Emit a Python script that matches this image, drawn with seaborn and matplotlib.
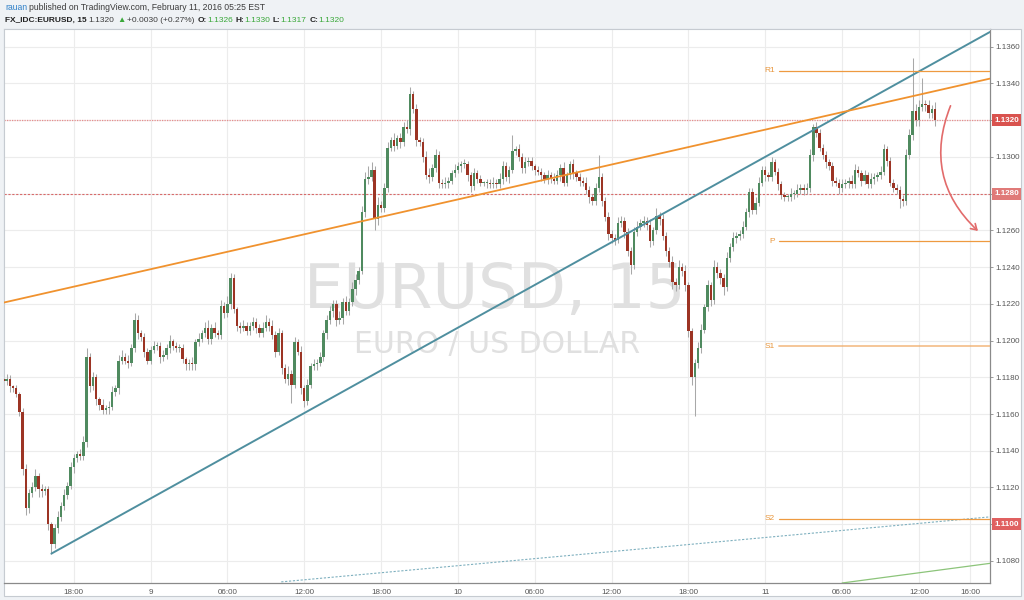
import numpy as np
import pandas as pd
import matplotlib
matplotlib.use('Agg')
import matplotlib.pyplot as plt
import seaborn as sns
from matplotlib.patches import Rectangle, FancyArrowPatch

sns.set_theme(style='white')
plt.rcParams['font.family'] = ['Liberation Sans', 'DejaVu Sans']

# EURUSD 15 min bars, prices as pips above 1.1000, time in hours after Feb 8 00:00
BASE = 1.1000
PIP = 0.0001
FIRST_BAR = 12.5
BAR_HOURS = 0.25

first_open = 179
close_pips = [
    178, 179, 175, 174, 171, 161, 130, 109, 117, 120, 126, 119, 118, 119, 100, 89, 98, 104, 110, 116,
    121, 131, 136, 138, 137, 145, 191, 175, 180, 168, 165, 162, 163, 164, 172, 174, 189, 191, 189, 188,
    196, 211, 204, 202, 194, 189, 195, 197, 197, 191, 192, 196, 200, 197, 196, 196, 190, 187, 188, 187,
    199, 201, 204, 207, 201, 207, 204, 203, 219, 215, 220, 234, 217, 208, 207, 208, 205, 208, 210, 207,
    204, 207, 210, 208, 203, 194, 204, 185, 179, 182, 176, 199, 194, 174, 167, 176, 186, 187, 188, 191,
    204, 211, 216, 220, 211, 212, 221, 216, 221, 228, 233, 238, 270, 288, 289, 293, 266, 274, 272, 283,
    305, 309, 306, 310, 308, 316, 315, 334, 326, 309, 308, 300, 290, 289, 294, 301, 286, 285, 286, 287,
    291, 293, 295, 296, 296, 290, 284, 291, 288, 286, 286, 286, 285, 286, 285, 288, 295, 289, 293, 303,
    304, 300, 294, 297, 298, 295, 293, 292, 290, 288, 290, 288, 287, 290, 294, 286, 290, 296, 291, 289,
    287, 286, 282, 278, 276, 283, 289, 276, 267, 258, 256, 255, 264, 265, 259, 249, 241, 259, 262, 264,
    265, 263, 254, 260, 268, 266, 257, 249, 243, 232, 230, 240, 238, 230, 205, 180, 188, 196, 206, 218,
    230, 222, 240, 237, 234, 229, 245, 251, 256, 257, 258, 262, 270, 281, 271, 275, 286, 293, 290, 289,
    297, 292, 285, 279, 278, 278, 280, 280, 282, 283, 282, 283, 301, 316, 313, 305, 301, 297, 295, 287,
    286, 283, 285, 286, 287, 285, 293, 291, 287, 290, 285, 288, 289, 290, 292, 304, 298, 286, 283, 282,
    277, 276, 301, 312, 325, 320, 327, 329, 328, 324, 326, 320,
]
hi_wick = [
    2, 3, 2, 1, 2, 1, 2, 3, 2, 3, 4, 2, 3, 2, 2, 1, 2, 3, 2, 3,
    2, 3, 2, 2, 3, 3, 5, 2, 3, 2, 1, 3, 2, 3, 3, 2, 3, 4, 2, 3,
    2, 4, 3, 2, 2, 2, 2, 3, 2, 2, 3, 2, 3, 1, 2, 2, 2, 1, 2, 3,
    2, 3, 2, 3, 4, 2, 3, 2, 3, 2, 4, 3, 2, 1, 2, 3, 2, 2, 3, 2,
    2, 3, 4, 2, 3, 2, 3, 2, 2, 4, 2, 3, 2, 3, 2, 3, 2, 3, 2, 3,
    2, 3, 3, 2, 2, 4, 2, 3, 2, 4, 3, 2, 3, 4, 6, 4, 2, 4, 2, 3,
    3, 2, 4, 2, 3, 3, 4, 4, 2, 3, 2, 2, 3, 4, 2, 3, 2, 2, 3, 2,
    2, 3, 2, 2, 3, 2, 2, 3, 2, 2, 1, 2, 2, 3, 2, 3, 3, 2, 2, 9,
    2, 3, 2, 3, 2, 2, 1, 2, 2, 2, 3, 2, 3, 3, 2, 3, 2, 2, 3, 2,
    2, 2, 3, 2, 2, 3, 12, 2, 2, 3, 2, 2, 3, 3, 2, 2, 2, 3, 3, 2,
    3, 2, 3, 2, 4, 2, 3, 2, 2, 3, 2, 4, 2, 3, 2, 2, 2, 3, 3, 2,
    3, 2, 4, 3, 2, 2, 3, 2, 3, 2, 2, 3, 2, 2, 2, 3, 3, 2, 2, 2,
    3, 2, 2, 2, 2, 2, 3, 2, 3, 2, 2, 3, 3, 2, 3, 2, 2, 2, 2, 2,
    2, 2, 3, 2, 2, 3, 3, 2, 2, 3, 2, 3, 2, 2, 3, 3, 2, 2, 2, 2,
    2, 2, 3, 3, 29, 4, 4, 14, 2, 3, 2, 4,
]
lo_wick = [
    2, 2, 3, 2, 2, 2, 3, 4, 3, 2, 2, 4, 3, 2, 3, 5, 2, 3, 2, 2,
    2, 2, 3, 2, 2, 2, 3, 3, 2, 3, 3, 2, 2, 3, 2, 2, 3, 2, 2, 3,
    2, 2, 3, 2, 3, 2, 2, 2, 2, 3, 2, 2, 3, 2, 2, 2, 2, 3, 3, 3,
    3, 2, 2, 2, 3, 3, 2, 2, 2, 3, 2, 3, 2, 3, 3, 2, 2, 2, 2, 3,
    2, 2, 2, 3, 2, 3, 2, 3, 2, 3, 10, 2, 2, 3, 3, 2, 2, 2, 3, 2,
    2, 3, 2, 3, 3, 2, 3, 2, 2, 2, 3, 2, 2, 3, 3, 2, 6, 3, 2, 2,
    2, 2, 3, 2, 3, 2, 2, 3, 2, 3, 2, 3, 2, 3, 2, 2, 3, 2, 2, 3,
    2, 2, 2, 3, 2, 3, 3, 2, 2, 2, 2, 3, 2, 2, 2, 2, 3, 2, 3, 2,
    2, 2, 3, 3, 2, 2, 3, 2, 3, 2, 3, 2, 2, 2, 3, 2, 2, 2, 3, 2,
    3, 2, 2, 3, 2, 2, 2, 3, 2, 3, 3, 3, 2, 2, 3, 3, 5, 2, 2, 2,
    2, 3, 3, 2, 2, 3, 2, 3, 3, 4, 3, 2, 3, 3, 3, 4, 21, 3, 3, 2,
    2, 3, 2, 3, 3, 4, 2, 2, 2, 3, 2, 2, 2, 3, 2, 2, 2, 2, 3, 2,
    2, 2, 3, 2, 2, 2, 2, 3, 2, 2, 3, 2, 2, 3, 2, 2, 2, 3, 2, 3,
    2, 3, 2, 2, 3, 2, 2, 2, 3, 2, 2, 2, 3, 2, 2, 2, 3, 2, 2, 2,
    5, 3, 2, 2, 3, 3, 3, 2, 3, 3, 3, 3,
]
assert len(close_pips) == len(hi_wick) == len(lo_wick)

# axes labels
x_ticks = [18, 24, 30, 36, 42, 48, 54, 60, 66, 72, 78, 84, 88]
x_labels = ['18:00', '9', '06:00', '12:00', '18:00', '10', '06:00', '12:00',
            '18:00', '11', '06:00', '12:00', '16:00']
price_ticks = [1.1080, 1.1100, 1.1120, 1.1140, 1.1160, 1.1180, 1.1200, 1.1220,
               1.1240, 1.1260, 1.1280, 1.1300, 1.1320, 1.1340, 1.1360]

# drawings
teal_t = [16.25, 89.55]
teal_p = [1.1084, 1.1368]
orange_t = [12.55, 89.55]
orange_p = [1.12207, 1.13426]
dash_t = [34.2, 89.55]
dash_p = [1.10686, 1.1104]
green_t = [78.0, 89.55]
green_p = [1.1068, 1.10787]
pivot_names = ['R1', 'P', 'S1', 'S2']
pivot_levels = [1.1347, 1.1254, 1.1197, 1.1103]
pivot_start = 73.05
price_marks = [1.1320, 1.1280, 1.1100]
price_mark_colors = ['#d9534f', '#e07a78', '#e06060']

# ---- build OHLC
n = len(close_pips)
t = FIRST_BAR + BAR_HOURS * np.arange(n)
c = BASE + np.array(close_pips) * PIP
o = BASE + np.array([first_open] + close_pips[:-1]) * PIP
hi = np.maximum(o, c) + np.array(hi_wick) * PIP
lo = np.minimum(o, c) - np.array(lo_wick) * PIP
bars = pd.DataFrame({'t': t, 'open': o, 'high': hi, 'low': lo, 'close': c})
bars['up'] = bars['close'] >= bars['open']

W, H = 1024, 600
fig = plt.figure(figsize=(W / 100, H / 100), dpi=100, facecolor='#eff2f5')
fig.patches.append(Rectangle((4 / W, 4 / H), 1017 / W, 567 / H, transform=fig.transFigure,
                             facecolor='white', edgecolor='#c6cbd1', lw=0.8, zorder=-10))
ax = fig.add_axes([4 / W, 17 / H, 986 / W, 554 / H])
ax.set_zorder(5)
ax.set_facecolor('white')
ax.set_xlim(12.55, 89.55)
ax.set_ylim(1.10680, 1.13696)

# grid
ax.set_xticks(x_ticks)
ax.set_xticklabels(x_labels)
ax.set_yticks(price_ticks)
ax.set_yticklabels([f'{p:.4f}' for p in price_ticks])
ax.yaxis.tick_right()
ax.grid(True, color='#ececec', lw=0.8, zorder=0)
ax.set_axisbelow(True)
ax.tick_params(axis='both', labelsize=5.8, labelcolor='#555555', color='#8a8a8a',
               length=2.5, width=0.6, pad=1.5, direction='out')
for side in ['left', 'top']:
    ax.spines[side].set_color('#c6cbd1')
    ax.spines[side].set_linewidth(0.8)
for side in ['right', 'bottom']:
    ax.spines[side].set_color('#8a8a8a')
    ax.spines[side].set_linewidth(0.9)

# watermark
ax.text(0.498, 0.4964, 'EURUSD, 15', transform=ax.transAxes, ha='center', va='baseline',
        fontsize=45, color='#e0e0e0', family='DejaVu Sans', zorder=1)
ax.text(0.5005, 0.4152, 'EURO / US DOLLAR', transform=ax.transAxes, ha='center', va='baseline',
        fontsize=21.5, color='#e0e0e0', family='DejaVu Sans', zorder=1)

# horizontal price lines
ax.axhline(price_marks[0], color='#e88c8c', lw=0.9, ls=(0, (1, 1)), zorder=2)
ax.axhline(price_marks[1], color='#d86a6a', lw=0.8, ls=(0, (2, 1.5)), zorder=2)

# candles
ax.vlines(bars['t'], bars['low'], bars['high'], color='#a8a8a8', lw=0.75, zorder=3)
body_bottom = np.minimum(bars['open'], bars['close'])
body_h = np.maximum((bars['close'] - bars['open']).abs(), 0.5 * PIP)
ax.bar(bars['t'], body_h, bottom=body_bottom, width=0.19,
       color=np.where(bars['up'], '#4f8a5f', '#9c3424'), linewidth=0, zorder=4)

# trend lines
sns.lineplot(x=teal_t, y=teal_p, ax=ax, color='#4f8f9f', lw=1.4, zorder=5)
sns.lineplot(x=orange_t, y=orange_p, ax=ax, color='#f0922e', lw=1.3, zorder=5)
ax.plot(dash_t, dash_p, color='#7fb0bf', lw=0.8, ls=(0, (2, 1.5)), zorder=5)
sns.lineplot(x=green_t, y=green_p, ax=ax, color='#8cc47a', lw=0.9, zorder=5)

# pivots
for name, lvl in zip(pivot_names, pivot_levels):
    ax.plot([pivot_start, 89.55], [lvl, lvl], color='#f0a860' if name == 'S1' else '#ee9a40',
            lw=1.3 if name == 'S1' else 0.9, alpha=0.7 if name == 'S1' else 1.0, zorder=5)
    ax.text(pivot_start - 0.3, lvl, name, ha='right', va='center', fontsize=6,
            color='#e8963c', zorder=6)

# curved arrow
arrow = FancyArrowPatch((86.55, 1.13292), (88.77, 1.12586), connectionstyle='arc3,rad=0.35',
                        arrowstyle='->,head_length=4,head_width=2.5', color='#e26b6b', lw=1.2,
                        zorder=6)
ax.add_patch(arrow)

# price labels on the right axis
for p, col in zip(price_marks, price_mark_colors):
    ax.annotate(f'{p:.4f}', xy=(1.0, p), xycoords=('axes fraction', 'data'),
                xytext=(3, 0), textcoords='offset points', ha='left', va='center',
                fontsize=5.8, color='white', fontweight='bold', annotation_clip=False,
                bbox=dict(boxstyle='square,pad=0.3', fc=col, ec='none'), zorder=10)

# header text laid out piece by piece
renderer = fig.canvas.get_renderer()


def write_run(x_px, y_px, pieces, size):
    for s, color, weight, gap in pieces:
        txt = fig.text(x_px / W, 1 - y_px / H, s, color=color, fontsize=size,
                       fontweight=weight, va='baseline', ha='left')
        x_px += txt.get_window_extent(renderer).width + gap


dark = '#3c3c3c'
green = '#3aa83a'
bold = '#222222'
write_run(5, 10, [('rauan', '#2f80c8', 'normal', 2.2),
                  ('published on TradingView.com, February 11, 2016 05:25 EST', dark, 'normal', 0)],
          6.2)
write_run(5, 22, [('FX_IDC:EURUSD, 15', bold, 'bold', 2.2), ('1.1320', dark, 'normal', 2.2),
                  ('\u25b2', green, 'normal', 2.2), ('+0.0030 (+0.27%)', dark, 'normal', 2.6),
                  ('O:', bold, 'bold', 0.3), ('1.1326', green, 'normal', 2.6),
                  ('H:', bold, 'bold', 0.3), ('1.1330', green, 'normal', 2.6),
                  ('L:', bold, 'bold', 0.3), ('1.1317', green, 'normal', 2.6),
                  ('C:', bold, 'bold', 0.3), ('1.1320', green, 'normal', 0)],
          6.0)

fig.savefig('out.png', dpi=100, facecolor=fig.get_facecolor())
